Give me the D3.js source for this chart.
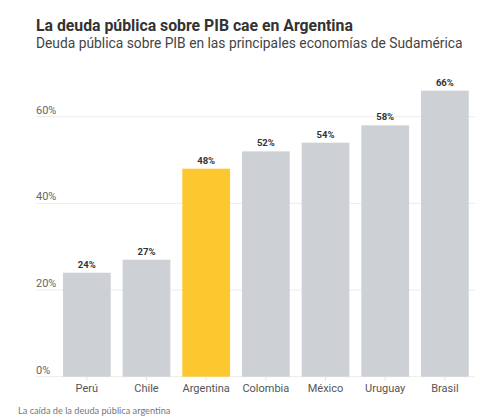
<!DOCTYPE html>
<html>
<head>
<meta charset="utf-8">
<script src="https://cdn.jsdelivr.net/npm/d3@7"></script>
<style>
  body { margin: 0; background: #fff; }
  svg { font-family: Roboto, sans-serif; }
</style>
</head>
<body>
<svg id="chart"></svg>
<script>
const countries = ['Perú', 'Chile', 'Argentina', 'Colombia', 'México', 'Uruguay', 'Brasil'];
const debt = [24, 27, 48, 52, 54, 58, 66];
const yTicks = [0, 20, 40, 60];
const highlight = 'Argentina';

const width = 500, height = 419;

const svg = d3.select('#chart')
    .attr('width', width)
    .attr('height', height);

const x = d3.scaleBand()
    .domain(countries)
    .range([57, 474.7])
    .paddingInner(0.2)
    .paddingOuter(0.1);

const y = d3.scaleLinear()
    .domain([0, 60])
    .range([376.7, 116.7]);

// Title
svg.append('text')
    .attr('x', 36).attr('y', 30.5)
    .style('font-size', '15.8px')
    .style('font-weight', 'bold')
    .style('fill', '#333')
    .text('La deuda pública sobre PIB cae en Argentina');

svg.append('text')
    .attr('x', 36).attr('y', 47.5)
    .style('font-size', '13.8px')
    .style('fill', '#444')
    .text('Deuda pública sobre PIB en las principales economías de Sudamérica');

// Grid lines
const grid = svg.append('g');
grid.selectAll('line')
    .data(yTicks)
    .join('line')
    .attr('x1', 36).attr('x2', 475)
    .attr('y1', d => y(d)).attr('y2', d => y(d))
    .attr('stroke', '#ececec')
    .attr('stroke-width', 1);

grid.selectAll('text')
    .data(yTicks)
    .join('text')
    .attr('x', 36)
    .attr('y', d => y(d) - 3)
    .style('font-size', '11px')
    .style('fill', '#666')
    .text(d => d + '%');

// Bars
const data = countries.map((c, i) => ({country: c, value: debt[i]}));

svg.append('g').selectAll('rect')
    .data(data)
    .join('rect')
    .attr('x', d => x(d.country))
    .attr('width', x.bandwidth())
    .attr('y', d => y(d.value))
    .attr('height', d => y(0) - y(d.value))
    .attr('fill', d => d.country === highlight ? '#fdc82f' : '#cdd1d5');

svg.append('g').selectAll('text')
    .data(data)
    .join('text')
    .attr('x', d => x(d.country) + x.bandwidth() / 2)
    .attr('y', d => y(d.value) - 5)
    .attr('text-anchor', 'middle')
    .style('font-size', '9.5px')
    .style('font-weight', 'bold')
    .style('fill', '#333')
    .text(d => d.value + '%');

// X axis
const xAxis = d3.axisBottom(x).tickSize(4).tickPadding(4).tickSizeOuter(0);
const xAxisG = svg.append('g')
    .attr('transform', `translate(0,${y(0)})`)
    .call(xAxis);
xAxisG.select('.domain').remove();
xAxisG.selectAll('.tick line').attr('stroke', '#e2e2e2');
xAxisG.selectAll('.tick text')
    .style('font-family', 'Roboto, sans-serif')
    .style('font-size', '11px')
    .style('fill', '#555');

// Footer
svg.append('text')
    .attr('x', 18).attr('y', 414)
    .style('font-family', 'Lato, sans-serif')
    .style('font-size', '9.2px')
    .style('fill', '#777')
    .text('La caída de la deuda pública argentina');
</script>
</body>
</html>
